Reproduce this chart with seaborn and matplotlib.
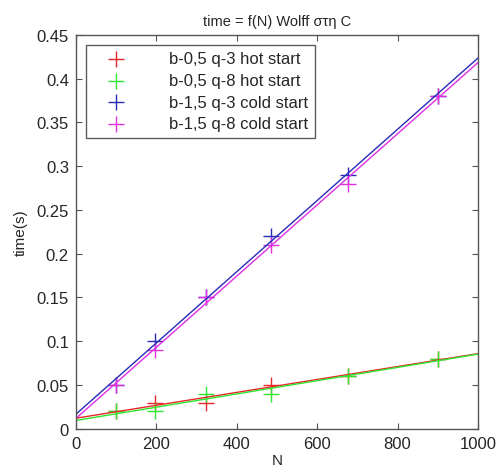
import numpy as np
import pandas as pd
import seaborn as sns
import matplotlib.pyplot as plt

# sizes N (lattice L^2) and measured times
n_values = [100, 196, 324, 484, 676, 900]
red_times = [0.02, 0.03, 0.03, 0.05, 0.06, 0.08]
green_times = [0.02, 0.02, 0.04, 0.04, 0.06, 0.08]
blue_times = [0.05, 0.10, 0.15, 0.22, 0.29, 0.38]
magenta_times = [0.05, 0.09, 0.15, 0.21, 0.28, 0.38]

labels = ["b-0,5 q-3 hot start", "b-0,5 q-8 hot start",
          "b-1,5 q-3 cold start", "b-1,5 q-8 cold start"]
colors = ["#e8262a", "#2ee62e", "#2a2ab8", "#e02ee0"]
series = [red_times, green_times, blue_times, magenta_times]

sns.set_style("ticks")
plt.rcParams['font.family'] = ['Liberation Sans', 'DejaVu Sans']
plt.rcParams['font.size'] = 10

fig = plt.figure(figsize=(4.99, 4.77), dpi=100)
ax = fig.add_axes([0.152, 0.099, 0.806, 0.826])

x_fit = np.array([0, 1000])
for lab, col, y in zip(labels, colors, series):
    df = pd.DataFrame({"N": n_values, "t": y})
    sns.scatterplot(data=df, x="N", y="t", marker="+", s=120, color=col,
                    linewidth=1.0, label=lab, ax=ax)
for lab, col, y in zip(labels, colors, series):
    # linear fit
    k, b = np.polyfit(n_values, y, 1)
    sns.lineplot(x=x_fit, y=k * x_fit + b, color=col, linewidth=1.0,
                 legend=False, ax=ax)

ax.set_xlim(0, 1000)
ax.set_ylim(0, 0.45)
ax.set_xticks([0, 200, 400, 600, 800, 1000])
ax.set_yticks([0, 0.05, 0.1, 0.15, 0.2, 0.25, 0.3, 0.35, 0.4, 0.45])
ax.set_yticklabels(["0", "0.05", "0.1", "0.15", "0.2", "0.25", "0.3", "0.35", "0.4", "0.45"])
ax.tick_params(direction="in", top=True, right=True, labelsize=12, length=4,
               color="#555555", pad=5)
ax.set_xlabel("N", fontsize=11, labelpad=2)
ax.set_ylabel("time(s)", fontsize=11, labelpad=6)
ax.set_title("time = f(N) Wolff στη C", fontsize=10.5, pad=7)

for spine in ax.spines.values():
    spine.set_edgecolor("#555555")
    spine.set_linewidth(1.0)

leg = ax.legend(loc="upper left", fontsize=12, frameon=True, fancybox=False,
                handletextpad=1.8, borderaxespad=0.6, labelspacing=0.4,
                borderpad=0.4, handlelength=2.8)
leg.get_frame().set_edgecolor("#333333")
leg.get_frame().set_linewidth(1.0)

fig.savefig("out.png", dpi=100)
